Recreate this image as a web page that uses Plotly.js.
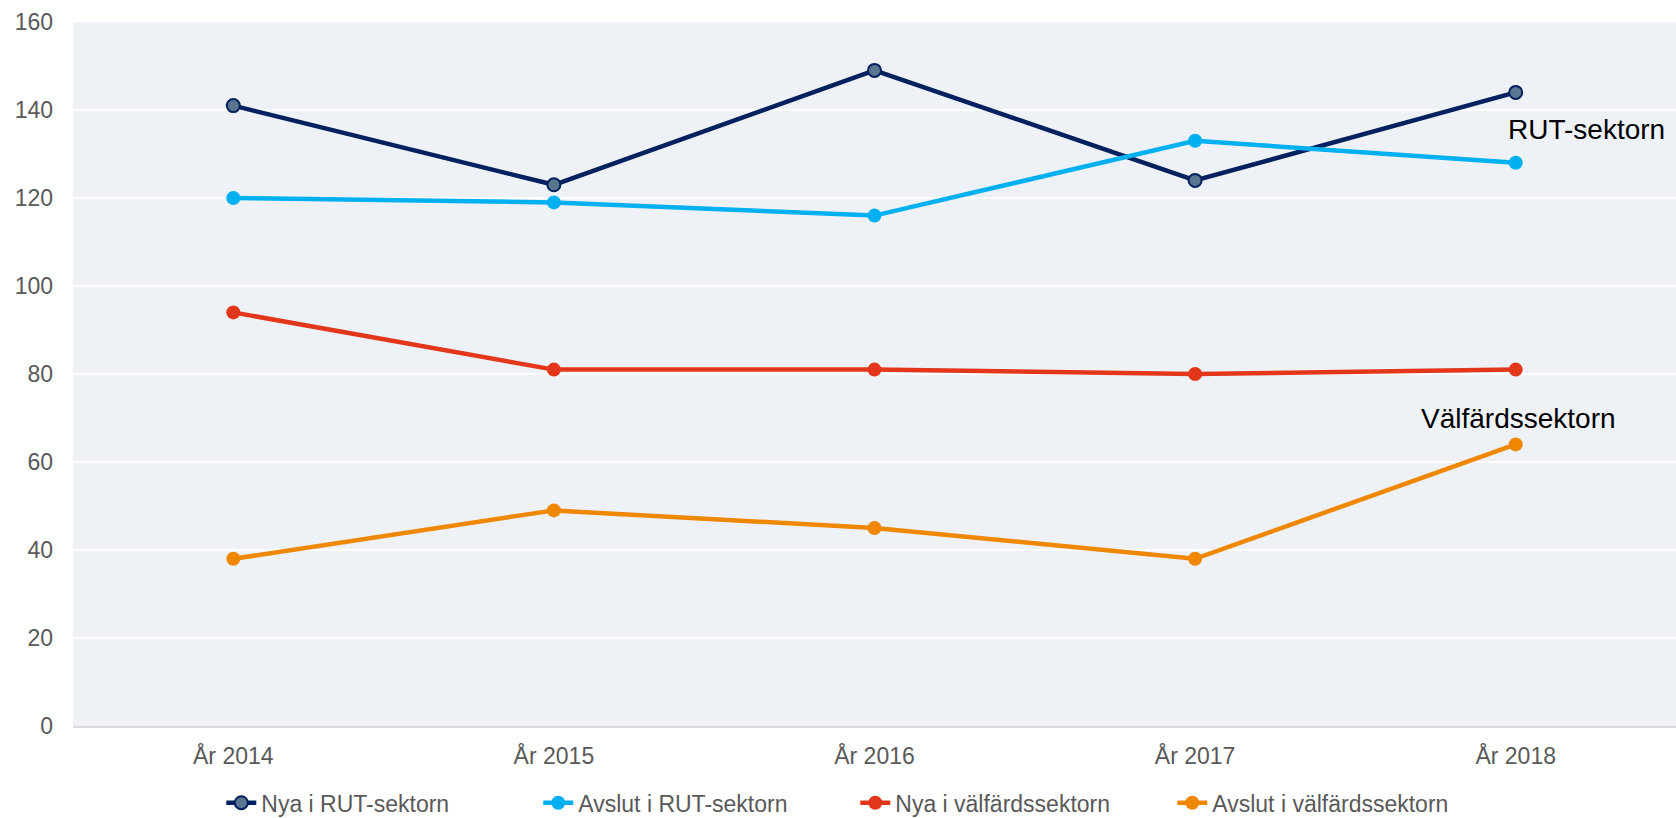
<!DOCTYPE html>
<html>
<head>
<meta charset="utf-8">
<script src="https://cdn.plot.ly/plotly-3.0.1.min.js"></script>
<style>html,body{margin:0;padding:0;background:#fff;}#chart{width:1676px;height:818px;}</style>
</head>
<body>
<div id="chart"></div>
<script>
const years = ["År 2014", "År 2015", "År 2016", "År 2017", "År 2018"];
const nyaRut = [141, 123, 149, 124, 144];
const avslutRut = [120, 119, 116, 133, 128];
const nyaValfard = [94, 81, 81, 80, 81];
const avslutValfard = [38, 49, 45, 38, 64];
const seriesNames = ["Nya i RUT-sektorn", "Avslut i RUT-sektorn", "Nya i välfärdssektorn", "Avslut i välfärdssektorn"];
const yTicks = [0, 20, 40, 60, 80, 100, 120, 140, 160];

const traces = [
  {x: years, y: nyaRut, name: seriesNames[0], mode: "lines+markers",
   line: {color: "#03205f", width: 4.5},
   marker: {size: 13, color: "#5a7691", line: {color: "#03205f", width: 2}}},
  {x: years, y: avslutRut, name: seriesNames[1], mode: "lines+markers",
   line: {color: "#00b0f0", width: 4.5},
   marker: {size: 14, color: "#00b0f0"}},
  {x: years, y: nyaValfard, name: seriesNames[2], mode: "lines+markers",
   line: {color: "#e2371b", width: 4.5},
   marker: {size: 14, color: "#e2371b"}},
  {x: years, y: avslutValfard, name: seriesNames[3], mode: "lines+markers",
   line: {color: "#f08700", width: 4.5},
   marker: {size: 14, color: "#f08700"}}
];

const layout = {
  width: 1676, height: 818,
  margin: {l: 73, r: 0, t: 22, b: 92, autoexpand: false},
  paper_bgcolor: "#ffffff",
  plot_bgcolor: "#eef2f6",
  font: {family: "Liberation Sans, Arial, sans-serif", size: 23, color: "#595959"},
  showlegend: true,
  legend: {orientation: "h", x: 0.0925, xanchor: "left", y: -0.109, yanchor: "middle",
           entrywidth: 272, entrywidthmode: "pixels",
           font: {size: 23, color: "#595959"}, bgcolor: "rgba(0,0,0,0)"},
  xaxis: {type: "category", range: [-0.5, 4.5], showgrid: false, zeroline: false, automargin: false,
          showline: true, linecolor: "#d9d9d9", linewidth: 2, ticks: "", ticklabelstandoff: 8,
          tickfont: {size: 23, color: "#595959"}, fixedrange: true},
  yaxis: {range: [0, 160], tickvals: yTicks, showgrid: true, gridcolor: "#ffffff", gridwidth: 2,
          zeroline: false, showline: false, ticks: "", ticklabelstandoff: 19, automargin: false,
          tickfont: {size: 23, color: "#595959"}, fixedrange: true},
  annotations: [
    {xref: "x", yref: "y", x: 4.22, y: 135.5, text: "RUT-sektorn", showarrow: false,
     font: {size: 28, color: "#000000"}},
    {xref: "x", yref: "y", x: 4.01, y: 70, text: "Välfärdssektorn", showarrow: false,
     font: {size: 28, color: "#000000"}}
  ]
};

Plotly.newPlot("chart", traces, layout, {displayModeBar: false, staticPlot: true});
</script>
</body>
</html>
